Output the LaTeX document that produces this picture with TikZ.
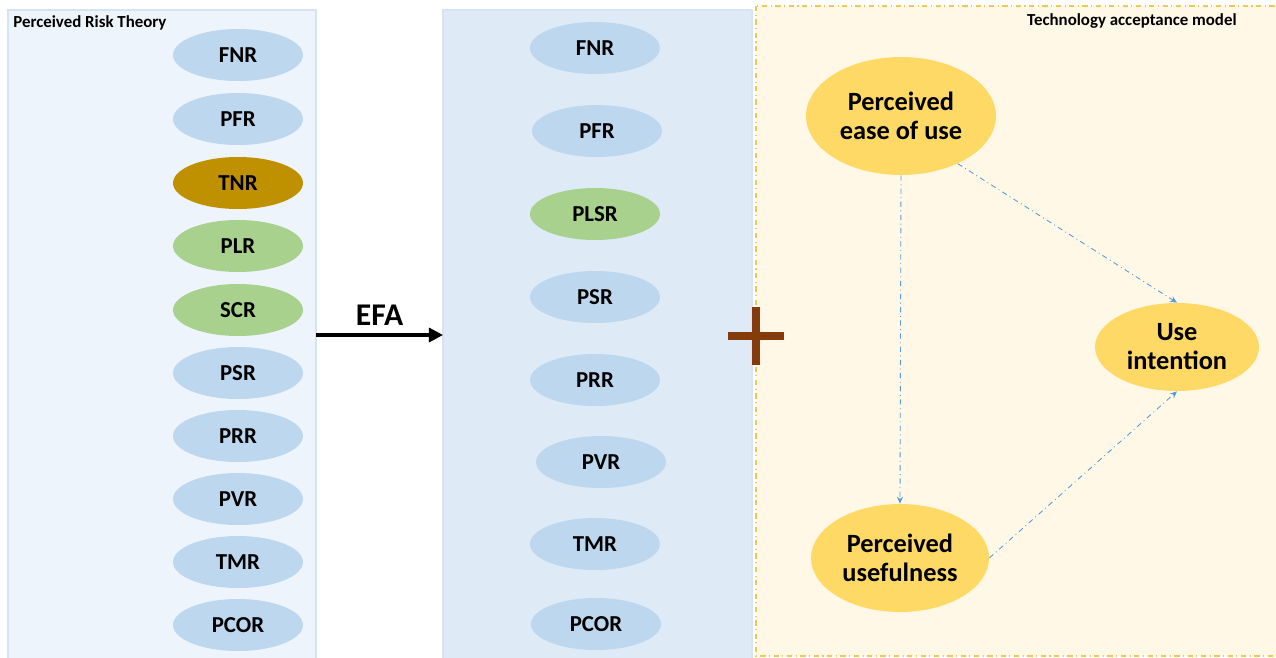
\documentclass[tikz,border=0pt]{standalone}
\usepackage{fontspec}
\setmainfont{Carlito}
\usetikzlibrary{shapes.geometric,arrows.meta}

\definecolor{riskbg}{HTML}{EEF4FB}
\definecolor{riskline}{HTML}{D5E3F2}
\definecolor{efabg}{HTML}{DEEAF6}
\definecolor{tambg}{HTML}{FFF8E6}
\definecolor{tamline}{HTML}{EFC85A}
\definecolor{blueell}{HTML}{BDD7EE}
\definecolor{greenell}{HTML}{A9D18E}
\definecolor{goldell}{HTML}{BF9000}
\definecolor{yellowell}{HTML}{FFD966}
\definecolor{linkblue}{HTML}{5B9BD5}
\definecolor{plusbrown}{HTML}{843C0C}

\begin{document}
\begin{tikzpicture}
[x=0.02cm,y=-0.02cm,>=Stealth,
factor/.style={ellipse,fill=blueell,minimum width=2.6cm,minimum height=1.04cm,inner sep=0pt,font=\fontsize{13}{15}\selectfont\bfseries},
greenfactor/.style={factor,fill=greenell},
goldfactor/.style={factor,fill=goldell},
construct/.style={ellipse,fill=yellowell,inner sep=0pt,align=center,font=\fontsize{15}{16.5}\selectfont\bfseries},
link/.style={->,draw=linkblue,line width=0.5pt,dash dot,>={Stealth[length=4pt,width=3.5pt]}},
]
\useasboundingbox (0,0) rectangle (1276,657);

%Panels
\fill[riskbg,draw=riskline,line width=0.6pt] (8,10) rectangle (316,660);
\fill[efabg,draw=riskline,line width=0.6pt] (443,10) rectangle (752,660);
\fill[tambg,draw=tamline,line width=0.6pt,dash dot] (756,6) rectangle (1280,656);

%Panel titles
\node (riskTitle) at (13,23)[anchor=west,font=\fontsize{9.6}{11}\selectfont\bfseries,inner sep=0pt] {Perceived Risk Theory};
\node (tamTitle) at (1237,21)[anchor=east,font=\fontsize{9.6}{11}\selectfont\bfseries,inner sep=0pt] {Technology acceptance model};

%Perceived risk dimensions
\node (FNR) at (238,55)[factor] {FNR};
\node (PFR) at (238,119)[factor] {PFR};
\node (TNR) at (238,183)[goldfactor] {TNR};
\node (PLR) at (238,246)[greenfactor] {PLR};
\node (SCR) at (238,310)[greenfactor] {SCR};
\node (PSR) at (238,373)[factor] {PSR};
\node (PRR) at (238,436)[factor] {PRR};
\node (PVR) at (238,499)[factor] {PVR};
\node (TMR) at (238,562)[factor] {TMR};
\node (PCOR) at (238,625)[factor] {PCOR};

%Dimensions after EFA
\node (FNRe) at (595,48)[factor] {FNR};
\node (PFRe) at (597,131)[factor] {PFR};
\node (PLSRe) at (595,214)[greenfactor] {PLSR};
\node (PSRe) at (595,297)[factor] {PSR};
\node (PRRe) at (595,380)[factor] {PRR};
\node (PVRe) at (601,462)[factor] {PVR};
\node (TMRe) at (595,544)[factor] {TMR};
\node (PCORe) at (596,624)[factor] {PCOR};

%EFA arrow
\coordinate (efaStart) at (316,335);
\coordinate (efaEnd) at (443,335);
\draw[->,line width=1.8pt,>={Triangle[length=8pt,width=8pt]}] (efaStart) -- node[above=1pt,font=\fontsize{18}{20}\selectfont\bfseries] {EFA} (efaEnd);

%Plus sign
\coordinate (plusC) at (756,336);
\draw[plusbrown,line width=4.5pt] ([shift={(-28,0)}]plusC) -- ([shift={(28,0)}]plusC);
\draw[plusbrown,line width=4.5pt] ([shift={(0,-29)}]plusC) -- ([shift={(0,29)}]plusC);

%Technology acceptance model
\node (PEOU) at (901,116)[construct,minimum width=3.8cm,minimum height=2.36cm] {Perceived\\ease of use};
\node (UI) at (1177,347)[construct,minimum width=3.28cm,minimum height=1.76cm] {Use\\intention};
\node (PU) at (900,558)[construct,minimum width=3.56cm,minimum height=2.16cm] {Perceived\\usefulness};

\draw[link] (PEOU.south) -- (PU.north);
\draw[link] (PEOU.-40) -- (UI.north);
\draw[link] (PU.east) -- (UI.south);

\end{tikzpicture}
\end{document}
